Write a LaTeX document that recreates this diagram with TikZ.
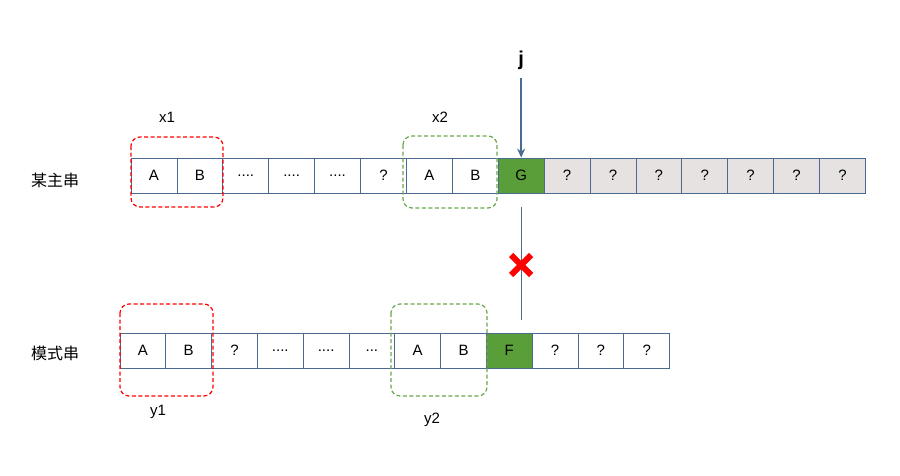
\documentclass[tikz,border=0pt]{standalone}
\usepackage{fontspec}
\setmainfont{Liberation Sans}
\newfontfamily\cjk{Noto Sans CJK SC}
\usetikzlibrary{arrows.meta}
\definecolor{cb}{HTML}{4A6A8F}
\definecolor{cg}{HTML}{E6E2E2}
\definecolor{gf}{HTML}{5A9E3A}
\definecolor{gd}{HTML}{6AA84F}
\newcommand{\dd}{....}
\newcommand{\ddd}{...}
\begin{document}
\begin{tikzpicture}[x=1pt,y=-1pt,
 cell/.style={draw=cb,line width=0.8pt,minimum width=45.9pt,minimum height=35pt,inner sep=0pt,font=\fontsize{15}{15}\selectfont},
 gcell/.style={cell,fill=cg},
 hit/.style={cell,fill=gf},
 rbox/.style={draw=red,dash pattern=on 4pt off 2.5pt,line width=1.2pt,rounded corners=9pt},
 gbox/.style={draw=gd,dash pattern=on 4pt off 2.5pt,line width=1.2pt,rounded corners=9pt},
 lab/.style={font=\fontsize{15}{15}\selectfont}]
\useasboundingbox (0,0) rectangle (900,475);
\foreach \t [count=\i] in {A,B,\dd,\dd,\dd,?,A,B} {
  \node[cell] (t\i) at (131+45.9*\i-22.95,175.5) {\t};}
\node[hit] (t9) at (131+45.9*9-22.95,175.5) {G};
\foreach \i in {10,11,12,13,14,15,16} {\node[gcell] (t\i) at (131+45.9*\i-22.95,175.5) {?};}
\foreach \t [count=\i] in {A,B,?,\dd,\dd,\ddd,A,B} {
  \node[cell] (b\i) at (120+45.8*\i-22.9,350.5) {\t};}
\node[hit] (b9) at (120+45.8*9-22.9,350.5) {F};
\foreach \i in {10,11,12} {\node[cell] (b\i) at (120+45.8*\i-22.9,350.5) {?};}
\draw[rbox] (131,137) rectangle (223,207);
\draw[gbox] (403,136) rectangle (497,208);
\draw[rbox] (120,304) rectangle (213,396);
\draw[gbox] (391,304) rectangle (487,396);
\node[lab] (x1) at (167,117) {x1};
\node[lab] (x2) at (440,117) {x2};
\node[lab] (y1) at (158,412) {y1};
\node[lab] (y2) at (432,420) {y2};
\node[font=\bfseries\fontsize{20}{20}\selectfont] (j) at (t9 |- 0,60) {j};
\coordinate (ja) at (t9 |- 0,78);
\draw[cb,line width=1.8pt,-{Stealth[length=9pt,width=8pt]}] (ja) -- (t9.north);
\coordinate (v1) at (t9 |- 0,207);
\coordinate (v2) at (t9 |- 0,320);
\draw[cb,line width=0.6pt] (v1) -- (v2);
\node[font=\cjk\fontsize{16}{16}\selectfont] (m) at (55,180) {某主串};
\node[font=\cjk\fontsize{16}{16}\selectfont] (p) at (55,353) {模式串};
\draw[red,line width=6pt] ([xshift=-10pt,yshift=-10pt]t9 |- 0,265) -- ([xshift=10pt,yshift=10pt]t9 |- 0,265)
  ([xshift=-10pt,yshift=10pt]t9 |- 0,265) -- ([xshift=10pt,yshift=-10pt]t9 |- 0,265);
\end{tikzpicture}
\end{document}
